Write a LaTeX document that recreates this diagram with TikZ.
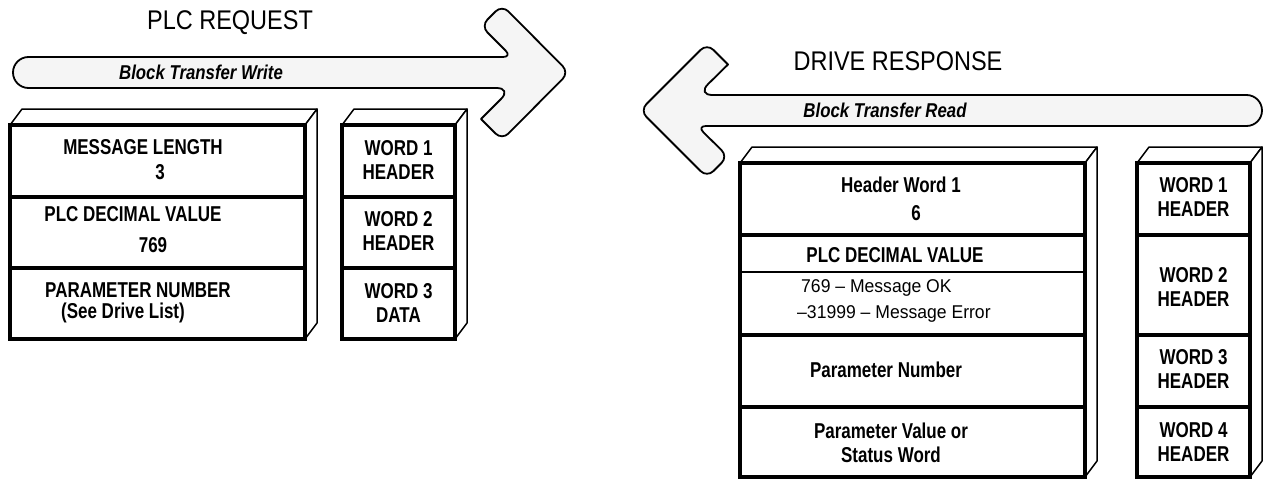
\documentclass[tikz,border=0pt]{standalone}
\usepackage{fontspec}
\setmainfont{Liberation Sans}[FakeStretch=0.95]
\newfontfamily\condr{Liberation Sans}[FakeStretch=0.87]
\newfontfamily\condb{Liberation Sans}[FakeStretch=0.79]
\newfontfamily\condbi{Liberation Sans}[FakeStretch=0.84]

\tikzset{
  frontline/.style={line width=4.5pt},
  faceline/.style={draw, fill=white, line width=1.5pt, line join=round},
  arrowbody/.style={draw, fill=black!4, line width=1.8pt, line join=round},
  celltext/.style={font=\condb\bfseries\fontsize{21.5}{24}\selectfont, align=center, inner sep=0pt},
  lighttext/.style={font=\fontsize{18.5}{26}\selectfont, inner sep=0pt},
  headtext/.style={font=\condr\fontsize{27}{30}\selectfont, inner sep=0pt},
  arrowtext/.style={font=\condbi\bfseries\itshape\fontsize{20}{22}\selectfont, inner sep=0pt}
}

\begin{document}
\begin{tikzpicture}[x=1pt,y=-1pt]
\useasboundingbox (0,0) rectangle (1264,479);

% request arrow
\draw[arrowbody] (200,57) [rounded corners=15.5pt] -- (13,57) -- (13,88) -- (512,88)
  [sharp corners] -- (481,119) [rounded corners=9pt] -- (502,140) -- (569,72.5)
  -- (502,5) -- (481,26) -- (512,57) [sharp corners] -- cycle;
\node[headtext] (reqtitle) at (230,23) {PLC REQUEST};
\node[arrowtext] (btwrite) at (201,72) {Block Transfer Write};

% response arrow
\draw[arrowbody] (900,126) [rounded corners=15.5pt] -- (1262,126) -- (1262,95) -- (697,95)
  [sharp corners] -- (728,64.5) [rounded corners=9pt] -- (707,43.5) -- (640,110.5)
  -- (707,177.5) -- (728,156.5) -- (697,126) [sharp corners] -- cycle;
\node[headtext] (resptitle) at (898,61) {DRIVE RESPONSE};
\node[arrowtext] (btread) at (885,110) {Block Transfer Read};

% request block
\draw[faceline] (10,125) -- (22,109) -- (317,109) -- (305,125) -- cycle;
\draw[faceline] (305,125) -- (317,109) -- (317,323) -- (305,339) -- cycle;
\draw[frontline, fill=white] (10,125) rectangle (305,339);
\draw[frontline] (10,197) -- (305,197);
\draw[frontline] (10,268) -- (305,268);
\node[celltext] (msglen) at (143,147) {MESSAGE LENGTH};
\node[celltext] (msglenval) at (160,172) {3};
\node[celltext] (reqdec) at (133,214) {PLC DECIMAL VALUE};
\node[celltext] (reqdecval) at (153,245) {769};
\node[celltext] (reqpar) at (138,290) {PARAMETER NUMBER};
\node[celltext] (reqparval) at (123,313) {(See Drive List)};

% request words
\draw[faceline] (342,125) -- (354,109) -- (467,109) -- (455,125) -- cycle;
\draw[faceline] (455,125) -- (467,109) -- (467,323) -- (455,339) -- cycle;
\draw[frontline, fill=white] (342,125) rectangle (455,339);
\draw[frontline] (342,197) -- (455,197);
\draw[frontline] (342,268) -- (455,268);
\node[celltext] (reqw1) at (398.5,160) {WORD 1\\HEADER};
\node[celltext] (reqw2) at (398.5,231) {WORD 2\\HEADER};
\node[celltext] (reqw3) at (398.5,302.5) {WORD 3\\DATA};

% response block
\draw[faceline] (740,163) -- (752,147) -- (1097,147) -- (1085,163) -- cycle;
\draw[faceline] (1085,163) -- (1097,147) -- (1097,461) -- (1085,477) -- cycle;
\draw[frontline, fill=white] (740,163) rectangle (1085,477);
\draw[frontline] (740,235) -- (1085,235);
\draw[frontline] (740,335) -- (1085,335);
\draw[frontline] (740,407) -- (1085,407);
\draw[line width=1.5pt] (740,272) -- (1085,272);
\node[celltext] (hdrword) at (901,185) {Header Word 1};
\node[celltext] (hdrwordval) at (916,213) {6};
\node[celltext] (respdec) at (895,255) {PLC DECIMAL VALUE};
\node[lighttext, anchor=west] (msgok) at (801,288) {769 – Message OK};
\node[lighttext, anchor=west] (msgerr) at (797,314) {–31999 – Message Error};
\node[celltext] (resppar) at (886,370) {Parameter Number};
\node[celltext] (respval) at (891,442.5) {Parameter Value or\\Status Word};

% response words
\draw[faceline] (1137,163) -- (1149,147) -- (1262,147) -- (1250,163) -- cycle;
\draw[faceline] (1250,163) -- (1262,147) -- (1262,461) -- (1250,477) -- cycle;
\draw[frontline, fill=white] (1137,163) rectangle (1250,477);
\draw[frontline] (1137,235) -- (1250,235);
\draw[frontline] (1137,335) -- (1250,335);
\draw[frontline] (1137,407) -- (1250,407);
\node[celltext] (respw1) at (1193.5,197) {WORD 1\\HEADER};
\node[celltext] (respw2) at (1193.5,287) {WORD 2\\HEADER};
\node[celltext] (respw3) at (1193.5,369) {WORD 3\\HEADER};
\node[celltext] (respw4) at (1193.5,442) {WORD 4\\HEADER};
\end{tikzpicture}
\end{document}
